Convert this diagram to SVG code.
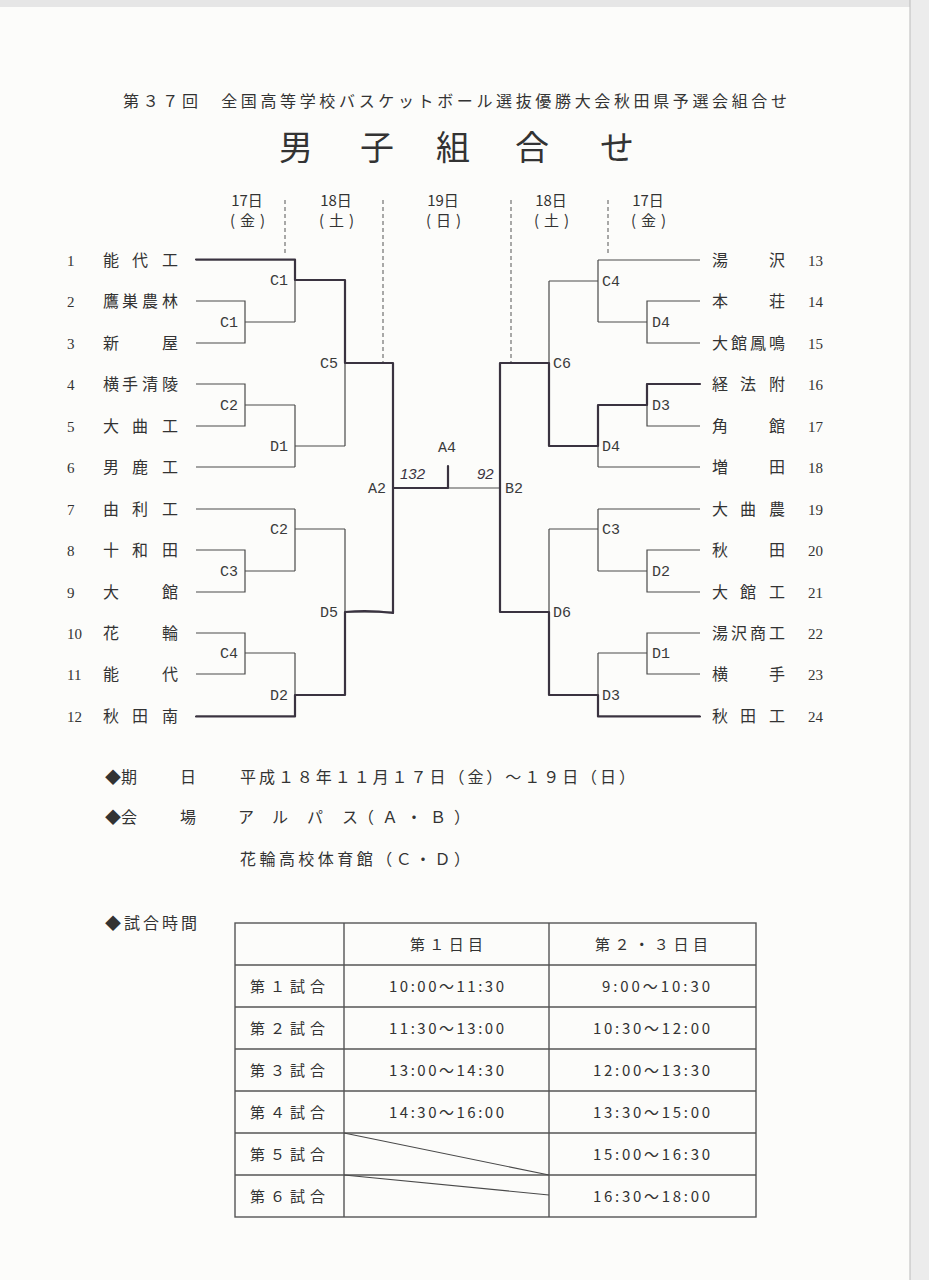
<svg xmlns="http://www.w3.org/2000/svg" width="929" height="1280" viewBox="0 0 929 1280">
<style>
.t{font-family:"Noto Sans CJK JP","Noto Sans CJK SC",sans-serif;fill:#333}
.nm{font-family:"Noto Sans CJK JP",sans-serif;font-size:16px;fill:#333}
.no{font-family:"Liberation Serif",serif;font-size:15px;fill:#333}
.lb{font-family:"Liberation Mono",monospace;font-size:15px;fill:#3a3a3a}
.hn{font-family:"Liberation Sans",sans-serif;font-style:italic;font-size:15px;fill:#3a3340}
.ln{stroke:#4a4a4a;stroke-width:1.2;fill:none}
.hw{stroke:#3a3340;stroke-width:2.2;fill:none;stroke-linejoin:round;stroke-linecap:round}
.ds{stroke:#555;stroke-width:1;stroke-dasharray:4 3;fill:none}
.tb{stroke:#555;stroke-width:1.4;fill:none}
</style>
<rect width="929" height="1280" fill="#fcfcfa"/>
<rect x="0" y="0" width="929" height="7" fill="#e6e6e6"/>
<rect x="910" y="0" width="19" height="1280" fill="#ececec"/>
<line x1="910" y1="0" x2="910" y2="1280" stroke="#bbb" stroke-width="1"/>

<g id="header">
<text class="t" x="123" y="107" font-size="16" textLength="664">第３７回　全国高等学校バスケットボール選抜優勝大会秋田県予選会組合せ</text>
<text class="t" x="296 377 453 532 617" y="160" font-size="34" text-anchor="middle">男子組合せ</text>
</g>

<g id="days">
<text class="t" x="247" y="206" font-size="15" text-anchor="middle">17日</text>
<text class="t" x="230" y="226" font-size="15" textLength="35">(金)</text>
<text class="t" x="336" y="206" font-size="15" text-anchor="middle">18日</text>
<text class="t" x="319" y="226" font-size="15" textLength="35">(土)</text>
<text class="t" x="443" y="206" font-size="15" text-anchor="middle">19日</text>
<text class="t" x="426" y="226" font-size="15" textLength="35">(日)</text>
<text class="t" x="551" y="206" font-size="15" text-anchor="middle">18日</text>
<text class="t" x="534" y="226" font-size="15" textLength="35">(土)</text>
<text class="t" x="648" y="206" font-size="15" text-anchor="middle">17日</text>
<text class="t" x="631" y="226" font-size="15" textLength="35">(金)</text>
</g>
<g id="day-dividers">
<path class="ds" d="M285,200V255M383,200V363M511,200V363M608,200V255"/>
</g>

<g id="teams-left">
<g id="team1"><text class="no" x="67" y="266">1</text><text class="nm" x="103 132 162" y="266">能代工</text></g>
<g id="team2"><text class="no" x="67" y="307">2</text><text class="nm" x="103 122 142 162" y="307">鷹巣農林</text></g>
<g id="team3"><text class="no" x="67" y="349">3</text><text class="nm" x="103 162" y="349">新屋</text></g>
<g id="team4"><text class="no" x="67" y="390">4</text><text class="nm" x="103 122 142 162" y="390">横手清陵</text></g>
<g id="team5"><text class="no" x="67" y="432">5</text><text class="nm" x="103 132 162" y="432">大曲工</text></g>
<g id="team6"><text class="no" x="67" y="473">6</text><text class="nm" x="103 132 162" y="473">男鹿工</text></g>
<g id="team7"><text class="no" x="67" y="515">7</text><text class="nm" x="103 132 162" y="515">由利工</text></g>
<g id="team8"><text class="no" x="67" y="556">8</text><text class="nm" x="103 132 162" y="556">十和田</text></g>
<g id="team9"><text class="no" x="67" y="598">9</text><text class="nm" x="103 162" y="598">大館</text></g>
<g id="team10"><text class="no" x="67" y="639">10</text><text class="nm" x="103 162" y="639">花輪</text></g>
<g id="team11"><text class="no" x="67" y="680">11</text><text class="nm" x="103 162" y="680">能代</text></g>
<g id="team12"><text class="no" x="67" y="722">12</text><text class="nm" x="103 132 162" y="722">秋田南</text></g>
</g>

<g id="teams-right">
<g id="team13"><text class="nm" x="712 769" y="266">湯沢</text><text class="no" x="808" y="266">13</text></g>
<g id="team14"><text class="nm" x="712 769" y="307">本荘</text><text class="no" x="808" y="307">14</text></g>
<g id="team15"><text class="nm" x="712 731 750 769" y="349">大館鳳鳴</text><text class="no" x="808" y="349">15</text></g>
<g id="team16"><text class="nm" x="712 740 769" y="390">経法附</text><text class="no" x="808" y="390">16</text></g>
<g id="team17"><text class="nm" x="712 769" y="432">角館</text><text class="no" x="808" y="432">17</text></g>
<g id="team18"><text class="nm" x="712 769" y="473">増田</text><text class="no" x="808" y="473">18</text></g>
<g id="team19"><text class="nm" x="712 740 769" y="515">大曲農</text><text class="no" x="808" y="515">19</text></g>
<g id="team20"><text class="nm" x="712 769" y="556">秋田</text><text class="no" x="808" y="556">20</text></g>
<g id="team21"><text class="nm" x="712 740 769" y="598">大館工</text><text class="no" x="808" y="598">21</text></g>
<g id="team22"><text class="nm" x="712 731 750 769" y="639">湯沢商工</text><text class="no" x="808" y="639">22</text></g>
<g id="team23"><text class="nm" x="712 769" y="680">横手</text><text class="no" x="808" y="680">23</text></g>
<g id="team24"><text class="nm" x="712 740 769" y="722">秋田工</text><text class="no" x="808" y="722">24</text></g>
</g>

<g id="connectors">
<path class="ln" d="M196,260H295 M196,301H245V343H196 M245,322H295 M295,260V322 M295,280H345
M196,384H245V426H196 M245,405H295 M196,467H295 M295,405V467 M295,446H345 M345,280V446 M345,363H393
M196,509H295 M196,550H245V592H196 M245,571H295 M295,509V571 M295,529H345
M196,633H245V674H196 M245,653H295 M196,716H295 M295,653V716 M295,695H345 M345,529V695 M345,612H393
M393,363V612 M393,488H500"/>
<path class="ln" d="M700,260H598 M700,301H647V343H700 M647,322H598 M598,260V322 M598,281H549
M700,384H647V426H700 M647,405H598 M700,467H598 M598,405V467 M598,446H549 M549,281V446 M549,363H500
M700,509H598 M700,550H647V592H700 M647,571H598 M598,509V571 M598,529H549
M700,633H647V674H700 M647,653H598 M700,716H598 M598,653V716 M598,695H549 M549,529V695 M549,612H500
M500,363V612"/>
<g id="handdrawn">
<path class="hw" d="M196,259.5H295V280H345V363H393V488H448V466"/>
<path class="hw" d="M196,716.5H295V695H345V612Q370,610 393,613V488"/>
<path class="hw" d="M700,384H647V405H598V446H549V363H500V488"/>
<path class="hw" d="M700,716.5H598V695H549V612H500V488"/>
</g>
</g>

<g id="matches-left">
<g id="m-L-C1a"><text class="lb" x="288" y="285" text-anchor="end">C1</text></g>
<g id="m-L-C1b"><text class="lb" x="238" y="327" text-anchor="end">C1</text></g>
<g id="m-L-C2a"><text class="lb" x="238" y="410" text-anchor="end">C2</text></g>
<g id="m-L-D1"><text class="lb" x="288" y="451" text-anchor="end">D1</text></g>
<g id="m-L-C5"><text class="lb" x="338" y="368" text-anchor="end">C5</text></g>
<g id="m-L-C2b"><text class="lb" x="288" y="534" text-anchor="end">C2</text></g>
<g id="m-L-C3"><text class="lb" x="238" y="576" text-anchor="end">C3</text></g>
<g id="m-L-C4"><text class="lb" x="238" y="658" text-anchor="end">C4</text></g>
<g id="m-L-D2"><text class="lb" x="288" y="700" text-anchor="end">D2</text></g>
<g id="m-L-D5"><text class="lb" x="338" y="617" text-anchor="end">D5</text></g>
<g id="m-A2"><text class="lb" x="386" y="493" text-anchor="end">A2</text></g>
</g>
<g id="m-A4"><text class="lb" x="438" y="452">A4</text>
<text class="hn" x="400" y="479">132</text><text class="hn" x="477" y="479">92</text></g>
<g id="matches-right">
<g id="m-R-C4"><text class="lb" x="602" y="286">C4</text></g>
<g id="m-R-D4a"><text class="lb" x="652" y="327">D4</text></g>
<g id="m-R-D3a"><text class="lb" x="652" y="410">D3</text></g>
<g id="m-R-D4b"><text class="lb" x="602" y="451">D4</text></g>
<g id="m-R-C6"><text class="lb" x="553" y="368">C6</text></g>
<g id="m-R-C3"><text class="lb" x="602" y="534">C3</text></g>
<g id="m-R-D2"><text class="lb" x="652" y="576">D2</text></g>
<g id="m-R-D1"><text class="lb" x="652" y="658">D1</text></g>
<g id="m-R-D3b"><text class="lb" x="602" y="700">D3</text></g>
<g id="m-R-D6"><text class="lb" x="553" y="617">D6</text></g>
<g id="m-B2"><text class="lb" x="505" y="493">B2</text></g>
</g>

<g id="info">
<text class="t" x="105 121 180" y="783" font-size="16">◆期日</text>
<text class="t" x="240" y="783" font-size="16" textLength="395">平成１８年１１月１７日（金）～１９日（日）</text>
<text class="t" x="105 121 180" y="823" font-size="16">◆会場</text>
<text class="t" x="238 272 307 342" y="823" font-size="16">アルパス</text>
<text class="t" x="358" y="823" font-size="16" textLength="112">（Ａ・Ｂ）</text>
<text class="t" x="240" y="865" font-size="16" textLength="230">花輪高校体育館（Ｃ・Ｄ）</text>
<text class="t" x="105" y="929" font-size="16" textLength="92">◆試合時間</text>
</g>

<g id="schedule-table">
<rect class="tb" x="235" y="923" width="521" height="294"/>
<path class="tb" d="M344,923V1217M549,923V1217M235,965H756M235,1007H756M235,1049H756M235,1091H756M235,1133H756M235,1175H756"/>
<path class="ln" d="M344,1133L549,1175M344,1175L549,1195"/>
<text class="t" x="410" y="950" font-size="15" textLength="73">第１日目</text>
<text class="t" x="595" y="950" font-size="15" textLength="113">第２・３日目</text>
<text class="t" x="250" y="992" font-size="15" textLength="75">第１試合</text>
<text class="t" x="250" y="1034" font-size="15" textLength="75">第２試合</text>
<text class="t" x="250" y="1076" font-size="15" textLength="75">第３試合</text>
<text class="t" x="250" y="1118" font-size="15" textLength="75">第４試合</text>
<text class="t" x="250" y="1160" font-size="15" textLength="75">第５試合</text>
<text class="t" x="250" y="1202" font-size="15" textLength="75">第６試合</text>
<text class="t" x="389" y="992" font-size="15" textLength="115">10:00～11:30</text>
<text class="t" x="389" y="1034" font-size="15" textLength="115">11:30～13:00</text>
<text class="t" x="389" y="1076" font-size="15" textLength="115">13:00～14:30</text>
<text class="t" x="389" y="1118" font-size="15" textLength="115">14:30～16:00</text>
<text class="t" x="602" y="992" font-size="15" textLength="108">9:00～10:30</text>
<text class="t" x="593" y="1034" font-size="15" textLength="117">10:30～12:00</text>
<text class="t" x="593" y="1076" font-size="15" textLength="117">12:00～13:30</text>
<text class="t" x="593" y="1118" font-size="15" textLength="117">13:30～15:00</text>
<text class="t" x="593" y="1160" font-size="15" textLength="117">15:00～16:30</text>
<text class="t" x="593" y="1202" font-size="15" textLength="117">16:30～18:00</text>
</g>
</svg>
